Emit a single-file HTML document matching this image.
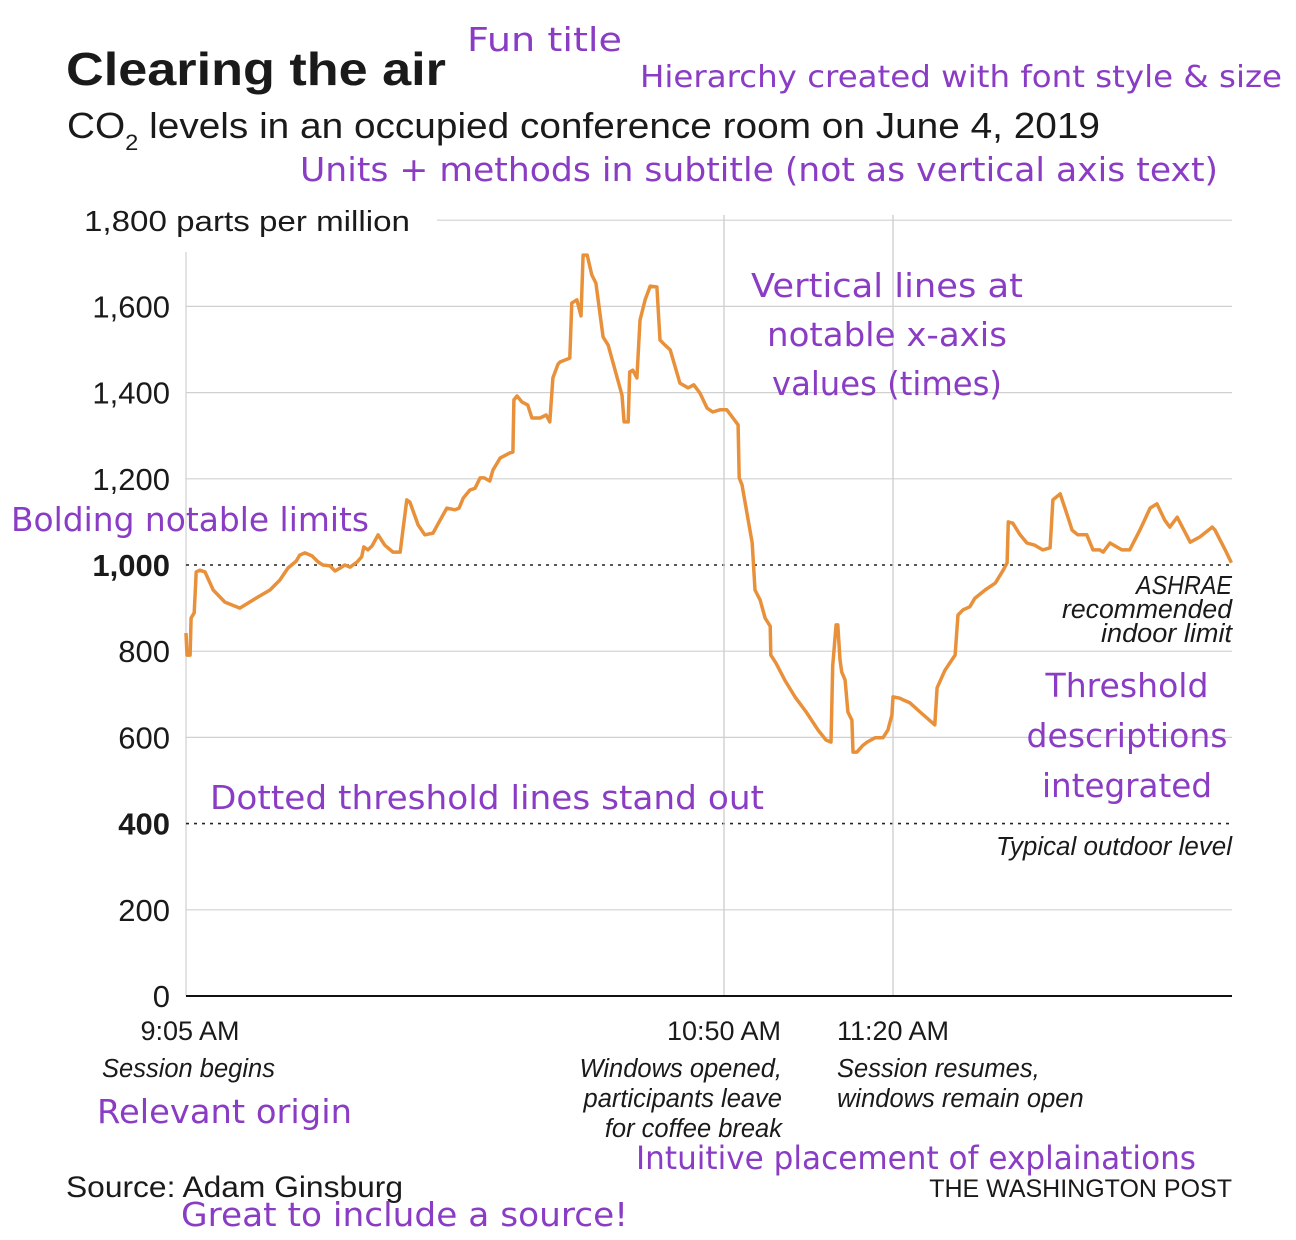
<!DOCTYPE html>
<html><head><meta charset="utf-8"><style>
html,body{margin:0;padding:0;background:#fff;}
svg{display:block;}
.p{font-family:"DejaVu Sans",sans-serif;fill:#8a3cc4;}
.t{font-family:"Liberation Sans",sans-serif;fill:#1a1a1a;}
.n{font-family:"Liberation Sans",sans-serif;font-style:italic;fill:#1a1a1a;font-size:25.5px;}
</style></head><body>
<svg id="chart" width="1296" height="1240" viewBox="0 0 1296 1240">
<text class="t" x="66" y="85" font-size="46" font-weight="bold" textLength="380" lengthAdjust="spacingAndGlyphs">Clearing the air</text>
<text class="t" x="67" y="138" font-size="36" textLength="1033" lengthAdjust="spacingAndGlyphs">CO<tspan font-size="22" dy="12">2</tspan><tspan dy="-12"> levels in an occupied conference room on June 4, 2019</tspan></text>
<text class="t" x="84" y="231" font-size="29" textLength="326" lengthAdjust="spacingAndGlyphs">1,800 parts per million</text>
<g id="grid"></g>
<g id="ticks"></g>
<path id="line" fill="none" stroke="#e8913a" stroke-width="3.5" stroke-linejoin="round"></path>
<g id="xlab"></g>
<text class="n" x="1232" y="594" text-anchor="end"><tspan x="1232" textLength="96" lengthAdjust="spacingAndGlyphs">ASHRAE</tspan><tspan x="1232" dy="24" textLength="170" lengthAdjust="spacingAndGlyphs">recommended</tspan><tspan x="1232" dy="24" textLength="131" lengthAdjust="spacingAndGlyphs">indoor limit</tspan></text>
<text class="n" x="1232" y="855" text-anchor="end" textLength="236" lengthAdjust="spacingAndGlyphs">Typical outdoor level</text>
<text class="n" x="102" y="1077">Session begins</text>
<text class="n" x="782" y="1077" text-anchor="end"><tspan x="782">Windows opened,</tspan><tspan x="782" dy="30">participants leave</tspan><tspan x="782" dy="30">for coffee break</tspan></text>
<text class="n" x="837" y="1077"><tspan x="837">Session resumes,</tspan><tspan x="837" dy="30">windows remain open</tspan></text>
<text class="t" x="66" y="1197" font-size="30" textLength="337" lengthAdjust="spacingAndGlyphs">Source: Adam Ginsburg</text>
<text class="t" x="1232" y="1197" font-size="25" text-anchor="end">THE WASHINGTON POST</text>
<g>
<text class="p" x="467" y="51" font-size="33" textLength="155" lengthAdjust="spacingAndGlyphs">Fun title</text>
<text class="p" x="640" y="87" font-size="30" textLength="642" lengthAdjust="spacingAndGlyphs">Hierarchy created with font style &amp; size</text>
<text class="p" x="300" y="181" font-size="33" textLength="918" lengthAdjust="spacingAndGlyphs">Units + methods in subtitle (not as vertical axis text)</text>
<text class="p" x="887" y="297" font-size="33" text-anchor="middle"><tspan x="887" textLength="272" lengthAdjust="spacingAndGlyphs">Vertical lines at</tspan><tspan x="887" dy="49" textLength="240" lengthAdjust="spacingAndGlyphs">notable x-axis</tspan><tspan x="887" dy="49" textLength="230" lengthAdjust="spacingAndGlyphs">values (times)</tspan></text>
<text class="p" x="11" y="531" font-size="33" textLength="358" lengthAdjust="spacingAndGlyphs">Bolding notable limits</text>
<text class="p" x="1127" y="697" font-size="33" text-anchor="middle"><tspan x="1127" textLength="163" lengthAdjust="spacingAndGlyphs">Threshold</tspan><tspan x="1127" dy="50" textLength="201" lengthAdjust="spacingAndGlyphs">descriptions</tspan><tspan x="1127" dy="50" textLength="170" lengthAdjust="spacingAndGlyphs">integrated</tspan></text>
<text class="p" x="210" y="809" font-size="33" textLength="554" lengthAdjust="spacingAndGlyphs">Dotted threshold lines stand out</text>
<text class="p" x="97" y="1123" font-size="33" textLength="255" lengthAdjust="spacingAndGlyphs">Relevant origin</text>
<text class="p" x="636" y="1169" font-size="32" textLength="560" lengthAdjust="spacingAndGlyphs">Intuitive placement of explainations</text>
<text class="p" x="181" y="1226" font-size="33" textLength="447" lengthAdjust="spacingAndGlyphs">Great to include a source!</text>
</g>
</svg>
<script>
const yTicks=[0,200,400,600,800,1000,1200,1400,1600];
const boldTicks=[400,1000];
const xTickMinutes=[0,105,135];
const xTickLabels=["9:05 AM","10:50 AM","11:20 AM"];
const times=[0,0.2,0.8,1.0,1.6,2.0,2.7,3.7,5.3,7.6,10.5,14.1,16.4,18.3,19.9,21.5,22.2,23.2,24.6,25.8,26.7,28.1,29.1,30.1,31.0,32.0,33.4,34.3,34.7,35.5,36.3,37.5,38.8,40.4,41.8,42.3,43.1,43.7,45.3,46.6,48.2,49.6,50.9,52.5,53.3,54.1,55.4,56.4,57.4,58.2,59.3,59.9,61.3,63.2,63.8,64.0,64.6,65.6,66.7,67.5,69.1,70.3,71.0,71.6,72.6,73.0,74.9,75.3,76.3,77.1,77.5,78.3,79.2,80.0,81.4,82.4,85.1,85.5,86.3,86.6,87.2,88.0,88.6,89.6,90.6,91.9,92.5,93.5,94.5,96.4,98.0,99.1,100.3,101.7,102.8,104.2,105.5,106.6,107.5,107.7,108.2,109.3,110.0,110.5,111.4,112.3,113.2,113.3,114.2,115.8,117.6,119.6,121.7,123.1,124.0,124.3,124.9,125.2,125.6,125.9,126.5,127.0,127.7,127.9,128.6,129.7,130.4,131.8,133.2,134.1,134.8,135.0,136.2,136.8,138.0,139.8,142.4,142.8,144.2,146.0,146.5,147.4,148.6,149.5,151.3,153.1,154.5,155.2,155.4,156.2,157.5,158.7,160.1,161.5,162.8,163.3,164.6,166.0,166.7,167.7,169.3,170.4,171.6,172.2,173.4,174.6,175.5,176.9,178.7,180.5,181.7,183.1,184.0,185.3,187.6,189.3,191.5,192.0,193.8,194.9];
const co2=[842,791,791,877,889,984,988,984,942,914,900,926,942,965,993,1009,1023,1028,1021,1007,1000,998,986,993,1000,995,1007,1019,1042,1035,1044,1070,1046,1030,1030,1077,1151,1146,1093,1070,1074,1104,1132,1128,1132,1155,1174,1178,1202,1202,1195,1220,1248,1260,1262,1383,1392,1378,1371,1341,1341,1348,1332,1434,1466,1471,1480,1608,1615,1578,1719,1719,1673,1654,1529,1510,1394,1332,1332,1448,1452,1434,1568,1615,1647,1645,1522,1510,1499,1422,1411,1418,1399,1364,1355,1360,1360,1341,1325,1202,1186,1104,1051,942,919,877,858,791,773,733,694,659,617,594,589,766,861,861,780,752,733,659,640,566,566,582,589,599,599,617,652,694,691,687,680,659,629,715,756,791,884,896,903,923,942,958,988,1005,1100,1097,1070,1051,1046,1035,1040,1151,1165,1109,1081,1070,1070,1035,1035,1030,1051,1042,1035,1035,1081,1132,1142,1104,1088,1111,1053,1065,1088,1081,1035,1005];
const NS='http://www.w3.org/2000/svg';
const X0=186,X1=1232,Y0=996,PPU=0.431;
const xd=[0,105,135,195], xr=[186,724,893,1232];
function xs(m){for(let i=0;i<xd.length-1;i++){if(m<=xd[i+1]||i===xd.length-2){return xr[i]+(m-xd[i])*(xr[i+1]-xr[i])/(xd[i+1]-xd[i]);}}}
function ys(v){return Y0-v*PPU;}
function mk(tag,attrs,parent){const e=document.createElementNS(NS,tag);for(const k in attrs)e.setAttribute(k,attrs[k]);parent.appendChild(e);return e;}
const grid=document.getElementById('grid'),ticks=document.getElementById('ticks'),xlab=document.getElementById('xlab');
let g=mk('line',{x1:437,x2:X1,y1:ys(1800),y2:ys(1800),stroke:'#d0d0d0','stroke-width':1.2},grid);


let ax=mk('line',{x1:X0,x2:X0,y1:252,y2:Y0,stroke:'#d0d0d0','stroke-width':1.2},grid);


yTicks.forEach(v=>{
  const bold=boldTicks.includes(v);
  if(v>0){
    const l=mk('line',{x1:X0,x2:X1,y1:ys(v),y2:ys(v),stroke:bold?'#222':'#d0d0d0','stroke-width':bold?1.6:1.2},grid);
    if(bold)l.setAttribute('stroke-dasharray','3,5');
    
    
  }
  const t=mk('text',{x:170,y:ys(v)+11,'text-anchor':'end','font-size':31,'font-weight':bold?'bold':'normal',class:'t'},ticks);
  t.textContent=v.toLocaleString('en-US');
  
  
});
xTickMinutes.forEach((m,i)=>{
  if(m>0){
    const l=mk('line',{x1:xs(m),x2:xs(m),y1:215,y2:Y0,stroke:'#cfcfcf','stroke-width':1.4},grid);
    
    
  }
  const t=mk('text',{x:xs(m)+(i===0?4:0),y:1040,'text-anchor':'middle','font-size':27,class:'t'},xlab);
  t.textContent=xTickLabels[i];
  
  
});
const base=mk('line',{x1:X0,x2:X1,y1:Y0,y2:Y0,stroke:'#111','stroke-width':2},grid);


document.getElementById('line').setAttribute('d',times.map((m,i)=>(i?'L':'M')+xs(m).toFixed(1)+','+ys(co2[i]).toFixed(1)).join(''));
</script>
</body></html>
